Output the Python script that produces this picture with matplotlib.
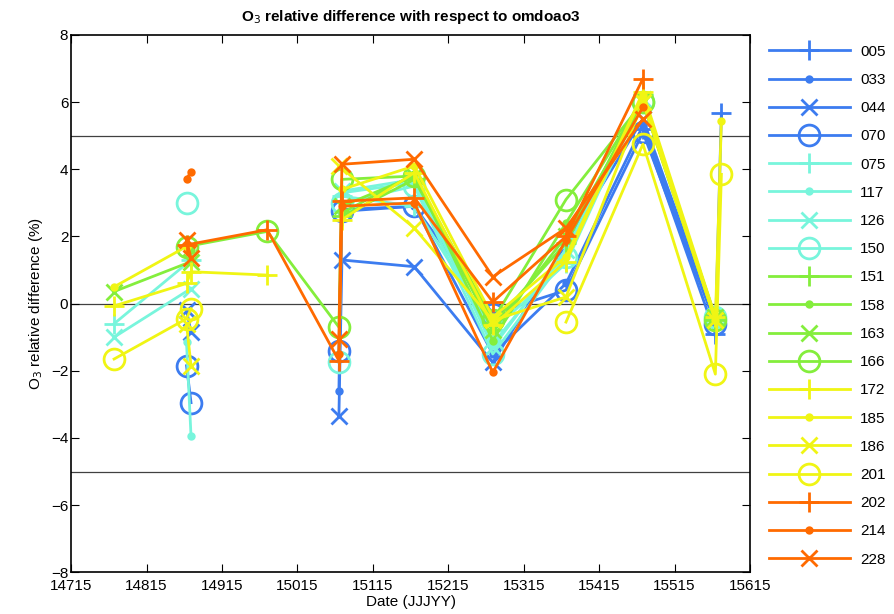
import numpy as np
import matplotlib
matplotlib.use('Agg')
import matplotlib.pyplot as plt

plt.rcParams['font.family'] = ['Liberation Sans Narrow', 'Liberation Sans', 'DejaVu Sans']

nan = np.nan

# fechas (JJJYY)
d1 = 14772
d2a, d2b = 14868, 14874
d3 = 14975
d4a, d4b = 15070, 15074
d5 = 15170
d6 = 15274
d7 = 15371
d8 = 15473
d9a, d9b = 15569, 15577

estaciones = ['005', '033', '044', '070', '075', '117', '126', '150', '151', '158',
              '163', '166', '172', '185', '186', '201', '202', '214', '228']

fechas = {
    '005': [d8, d9a, d9b],
    '033': [d4a, d4b, d5, d6, d7, d8, d9a],
    '044': [d2a, d2b, d3, d4a, d4b, d5, d6, d8, d9a],
    '070': [d2a, d2b, d3, d4a, d4b, d5, d6, d7, d8, d9a],
    '075': [d1, d2b, d3, d4b, d5, d6, d7, d8, d9a],
    '117': [d2a, d2b, d3, d4b, d5, d6, d7, d8, d9a],
    '126': [d1, d2b, d3, d4b, d5, d6, d7, d8, d9a],
    '150': [d2a, d3, d4a, d4b, d5, d6, d7, d8, d9a],
    '151': [d4b, d5, d6, d7, d8, d9a],
    '158': [d2b, d3, d4b, d5, d6, d7, d8, d9a],
    '163': [d1, d2b, d3, d4b, d5, d6, d7, d8, d9a],
    '166': [d2a, d3, d4a, d4b, d5, d6, d7, d8, d9a],
    '172': [d1, d2a, d2b, d3, d4a, d4b, d5, d6, d7, d8, d9a],
    '185': [d1, d2a, d3, d4b, d5, d6, d7, d8, d9a, d9b],
    '186': [d2a, d2b, d3, d4a, d5, d6, d7, d8, d9a],
    '201': [d1, d2a, d2b, d3, d7, d8, d9a, d9b],
    '202': [d2a, d3, d4a, d4b, d5, d6, d7, d8],
    '214': [d2a, d2b, d3, d4a, d4b, d5, d6, d7, d8],
    '228': [d2a, d2b, d3, d4a, d4b, d5, d6, d7, d8],
}

valores = {
    '005': [5.2, -0.9, 5.67],
    '033': [-2.6, 2.8, 2.9, -1.5, 0.6, 5.3, -0.5],
    '044': [-0.2, -0.85, nan, -3.35, 1.3, 1.1, -1.75, 5.5, -0.5],
    '070': [-1.85, -2.95, nan, -1.4, 2.75, 2.9, -0.3, 0.4, 5.1, -0.6],
    '075': [-0.6, 1.3, nan, 3.2, 2.9, -0.8, 1.2, 6.2, -0.45],
    '117': [-1.15, -3.95, nan, 3.3, 3.6, -1.2, 1.5, 6.1, -0.5],
    '126': [-1.0, 0.45, nan, 3.35, 3.7, -1.3, 1.6, 6.1, -0.45],
    '150': [3.0, nan, -1.75, 3.0, 3.5, -1.5, 1.4, 6.0, -0.4],
    '151': [2.6, 3.7, -0.6, 1.8, 6.2, -0.5],
    '158': [1.6, nan, 2.7, 3.85, -1.1, 2.4, 6.1, -0.45],
    '163': [0.36, 1.25, nan, 2.9, 3.8, -0.8, 2.0, 6.0, -0.4],
    '166': [1.7, 2.15, -0.7, 3.7, 3.8, -0.5, 3.1, 6.0, -0.5],
    '172': [-0.07, 0.6, 0.95, 0.85, nan, 2.5, 3.9, -0.65, 1.25, 6.3, -0.4],
    '185': [0.5, 1.7, nan, 3.4, 4.1, -0.4, 1.4, 6.2, -0.5, 5.45],
    '186': [-0.6, -1.85, nan, 4.1, 2.25, -0.5, 0.2, 6.0, -0.5],
    '201': [-1.65, -0.45, -0.15, nan, -0.55, 4.75, -2.1, 3.85],
    '202': [1.75, 2.2, -1.7, 3.05, 3.15, 0.05, 2.0, 6.7],
    '214': [3.72, 3.92, nan, -1.5, 2.9, 3.0, -2.05, 1.9, 5.85],
    '228': [1.9, 1.35, nan, -1.05, 4.15, 4.3, 0.8, 2.25, 5.5],
}

colores = ['#3c7cf0'] * 4 + ['#78f5dc'] * 4 + ['#84ee3c'] * 4 + ['#f0f514'] * 4 + ['#ff6a00'] * 3
marcadores = ['+', '.', 'x', 'o'] * 5
tamanos = {'+': 14, '.': 8, 'x': 11, 'o': 15}

fig = plt.figure(figsize=(8.94, 6.14), dpi=100)
ax = fig.add_axes([0.0795, 0.068, 0.7595, 0.875])

for y in [5, 0, -5]:
    ax.axhline(y, color='#404040', lw=0.9, zorder=1)

for i, est in enumerate(estaciones):
    m = marcadores[i]
    ax.plot(fechas[est], valores[est], color=colores[i], marker=m, ms=tamanos[m],
            mew=2.0, mfc='none' if m == 'o' else colores[i], lw=2.0, label=est, zorder=2)

ax.set_xlim(14715, 15615)
ax.set_ylim(-8, 8)
ax.set_xticks(np.arange(14715, 15616, 100))
ax.set_yticks(np.arange(-8, 9, 2))
ax.tick_params(direction='in', top=True, right=True, labelsize=11, length=6)
ax.tick_params(axis='x', pad=5)
ax.tick_params(axis='y', pad=2)
for s in ax.spines.values():
    s.set_linewidth(1.2)

ax.set_title('O$_3$ relative difference with respect to omdoao3', fontsize=11, fontweight='bold', pad=10)
ax.set_ylabel('O$_3$ relative difference (%)', fontsize=11)
ax.set_xlabel('Date (JJJYY)', fontsize=11, labelpad=1)

ax.legend(loc='upper left', bbox_to_anchor=(0.853, 0.937), bbox_transform=fig.transFigure,
          frameon=False, fontsize=11, handlelength=5.3, labelspacing=0.93,
          handletextpad=0.7, borderaxespad=0)

fig.savefig('out.png', dpi=100)
